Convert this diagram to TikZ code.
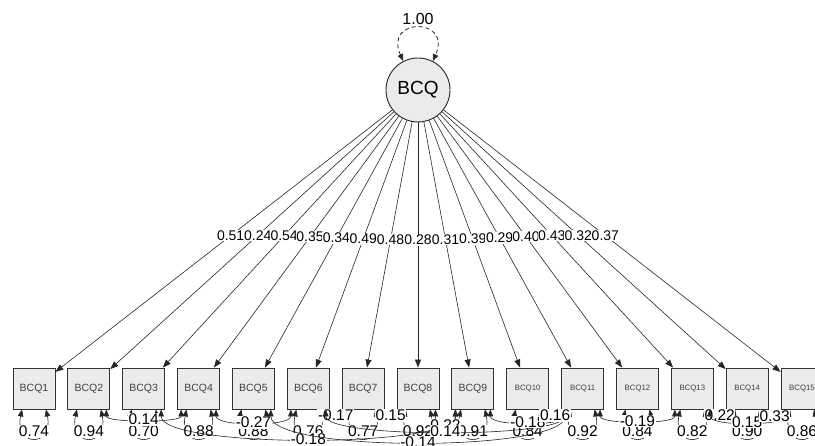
\documentclass[tikz,border=0pt]{standalone}
\usepackage{fontspec}
\setmainfont{Liberation Sans}
\usetikzlibrary{arrows.meta,calc}
\begin{document}
\begin{tikzpicture}[x=1pt,y=-1pt,
  lat/.style={circle,draw=black!85,line width=0.9pt,fill=black!8,minimum size=64pt,inner sep=0pt,font=\fontsize{19}{19}\selectfont},
  man/.style={rectangle,draw=black!80,line width=0.9pt,fill=black!8,minimum width=42pt,minimum height=41pt,inner sep=0pt,font=\fontsize{10.5}{10.5}\selectfont,text=black!75},
  mansm/.style={man,font=\fontsize{7.8}{7.8}\selectfont},
  load/.style={draw=black!85,line width=0.6pt,-{Triangle[length=8pt,width=6pt]}},
  varl/.style={draw=black!85,line width=0.6pt,{Triangle[length=7pt,width=5.5pt]}-{Triangle[length=7pt,width=5.5pt]}},
  varlat/.style={varl,dashed,line width=0.8pt,dash pattern=on 4pt off 3pt},
  lbl/.style={fill=white,inner sep=0.6pt,font=\fontsize{14}{14}\selectfont},
  vlbl/.style={fill=white,inner sep=0.6pt,font=\fontsize{15.5}{15.5}\selectfont},
  toplbl/.style={fill=white,inner sep=0.6pt,font=\fontsize{16}{16}\selectfont}
]
\useasboundingbox (0,0) rectangle (815,446);
\node[lat] (L) at (418,90) {BCQ};
\foreach \i/\x in {1/34,2/88.86,3/143.7,4/198.6,5/253.4,6/308.3,7/363.2,8/418,9/472.9}
  \node[man] (b\i) at (\x,388.5) {BCQ\i};
\foreach \i/\x in {10/527.7,11/582.6,12/637.5,13/692.3,14/747.2,15/802}
  \node[mansm] (b\i) at (\x,388.5) {BCQ\i};
% self loop of latent
\draw[varlat] (L.117) .. controls +(-20,-44) and +(20,-44) .. (L.63);
\node[toplbl] (one) at (418,19) {1.00};
% loadings
\foreach \i/\v in {1/0.51,2/0.24,3/0.54,4/0.35,5/0.34,6/0.49,7/0.48,8/0.28,9/0.31,10/0.39,11/0.29,12/0.40,13/0.43,14/0.32,15/0.37}
  \draw[load] (L) -- node[lbl,pos=0.48]{\v} (b\i);
% residual variances
\foreach \i in {1,...,15}
  \draw[varl] ($(b\i.south)+(-12,0)$) .. controls +(-8,38) and +(8,38) .. ($(b\i.south)+(12,0)$);
\foreach \i/\v in {1/0.74,2/0.94,3/0.70,4/0.88,5/0.88,6/0.76,7/0.77,8/0.92,9/0.91,10/0.84,11/0.92,12/0.84,13/0.82,14/0.90,15/0.86}
  \node[vlbl] (v\i) at ($(b\i.south)+(0,22)$) {\v};
% residual covariances
\foreach \a/\b/\c/\t in {2/4/13.3/0.14,4/6/17.3/-0.27,3/9/39/-0.18,6/7/8/-0.17,7/8/8/0.15,8/9/21/0.22,5/11/43/-0.14,6/11/29/0.14,9/11/17/-0.18,10/11/8/0.16,11/13/15/-0.19,13/14/8/0.22,13/15/17/0.15,14/15/9/0.33}
  \draw[varl] ($(b\a.south east)+(-4,0)$) .. controls +(0,\c) and +(0,\c) .. node[vlbl,pos=0.5]{\t} ($(b\b.south west)+(4,0)$);
\end{tikzpicture}
\end{document}
